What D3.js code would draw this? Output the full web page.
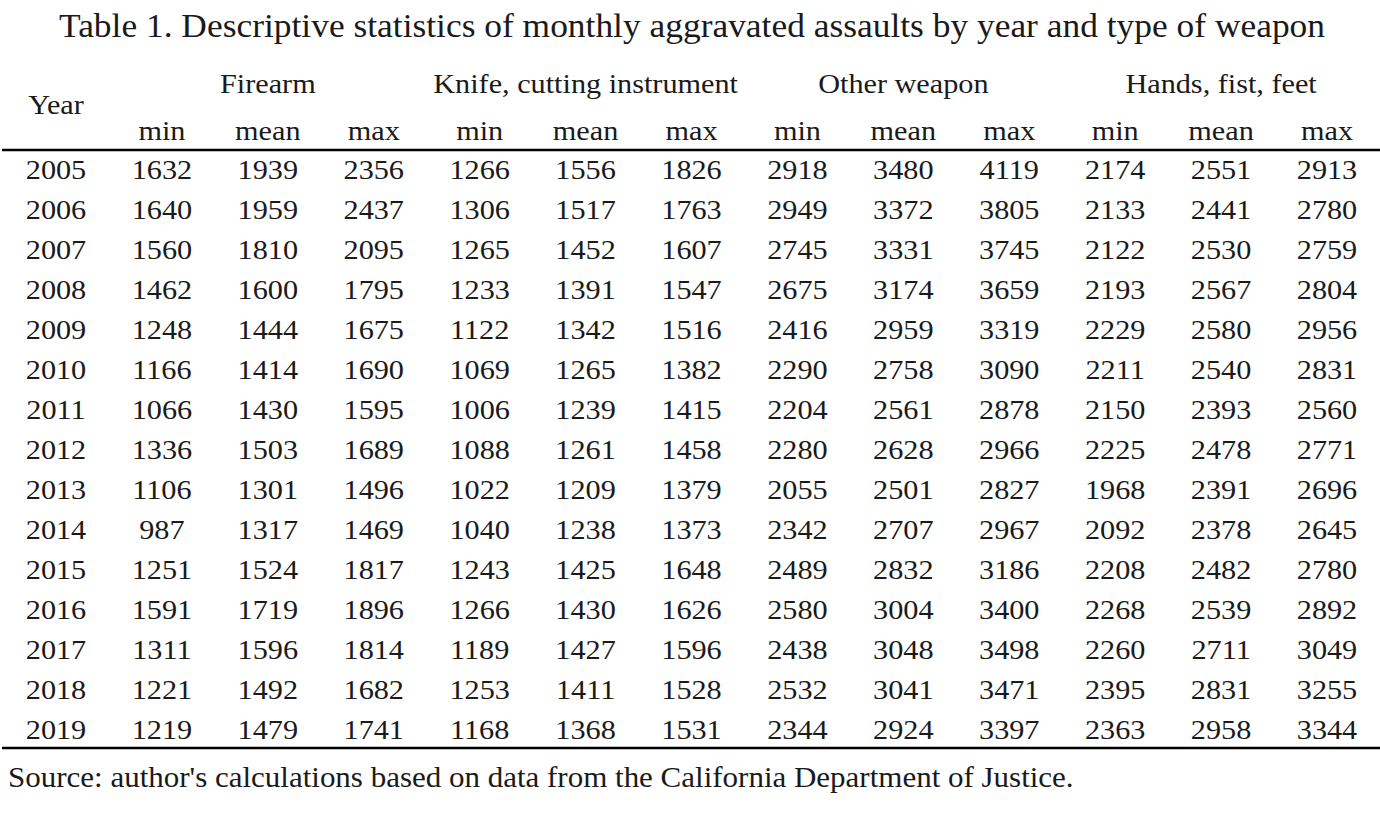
<!DOCTYPE html>
<html>
<head>
<meta charset="utf-8">
<script src="https://cdn.jsdelivr.net/npm/d3@7"></script>
<style>
  body { margin: 0; background: #fff; }
  svg text { font-family: 'Liberation Serif', 'Times New Roman', serif; fill: #1a1a1a; }
</style>
</head>
<body>
<svg id="table" width="1380" height="816"></svg>
<script>
// table values, one array per column
const years = [2005, 2006, 2007, 2008, 2009, 2010, 2011, 2012, 2013, 2014, 2015, 2016, 2017, 2018, 2019]
const weapons = ['Firearm', 'Knife, cutting instrument', 'Other weapon', 'Hands, fist, feet']
const stats = ['min', 'mean', 'max']

const firearmMin = [1632, 1640, 1560, 1462, 1248, 1166, 1066, 1336, 1106, 987, 1251, 1591, 1311, 1221, 1219]
const firearmMean = [1939, 1959, 1810, 1600, 1444, 1414, 1430, 1503, 1301, 1317, 1524, 1719, 1596, 1492, 1479]
const firearmMax = [2356, 2437, 2095, 1795, 1675, 1690, 1595, 1689, 1496, 1469, 1817, 1896, 1814, 1682, 1741]
const knifeMin = [1266, 1306, 1265, 1233, 1122, 1069, 1006, 1088, 1022, 1040, 1243, 1266, 1189, 1253, 1168]
const knifeMean = [1556, 1517, 1452, 1391, 1342, 1265, 1239, 1261, 1209, 1238, 1425, 1430, 1427, 1411, 1368]
const knifeMax = [1826, 1763, 1607, 1547, 1516, 1382, 1415, 1458, 1379, 1373, 1648, 1626, 1596, 1528, 1531]
const otherMin = [2918, 2949, 2745, 2675, 2416, 2290, 2204, 2280, 2055, 2342, 2489, 2580, 2438, 2532, 2344]
const otherMean = [3480, 3372, 3331, 3174, 2959, 2758, 2561, 2628, 2501, 2707, 2832, 3004, 3048, 3041, 2924]
const otherMax = [4119, 3805, 3745, 3659, 3319, 3090, 2878, 2966, 2827, 2967, 3186, 3400, 3498, 3471, 3397]
const handsMin = [2174, 2133, 2122, 2193, 2229, 2211, 2150, 2225, 1968, 2092, 2208, 2268, 2260, 2395, 2363]
const handsMean = [2551, 2441, 2530, 2567, 2580, 2540, 2393, 2478, 2391, 2378, 2482, 2539, 2711, 2831, 2958]
const handsMax = [2913, 2780, 2759, 2804, 2956, 2831, 2560, 2771, 2696, 2645, 2780, 2892, 3049, 3255, 3344]

const title = 'Table 1. Descriptive statistics of monthly aggravated assaults by year and type of weapon'
const source = "Source: author's calculations based on data from the California Department of Justice."

const columns = [years,
  firearmMin, firearmMean, firearmMax,
  knifeMin, knifeMean, knifeMax,
  otherMin, otherMean, otherMax,
  handsMin, handsMean, handsMax]

const svg = d3.select('#table')

// the source typeface is a little wider than Liberation Serif
const stretch = 1.08
const fontSize = 28

/**
 * Places text at (x, y) with the horizontal stretch applied.
 */
function place (sel, fx, fy) {
  sel.attr('transform', (d, i) => 'translate(' + fx(d, i) + ',' + fy(d, i) + ') scale(' + stretch + ',1)')
    .attr('dy', '0.35em')
}

// column centres and row centres
const x = d3.scalePoint()
  .domain(d3.range(columns.length))
  .range([56, 1327])

const y = d3.scalePoint()
  .domain(years)
  .range([169.5, 729.5])

svg.append('text')
  .attr('class', 'title')
  .attr('text-anchor', 'middle')
  .style('font-size', '32.8px')
  .text(title)
  .call(place, () => 692, () => 26)

svg.append('text')
  .attr('text-anchor', 'middle')
  .style('font-size', fontSize + 'px')
  .text('Year')
  .call(place, () => x(0), () => 104)

// weapon group headers, centred over their mean column
svg.selectAll('.group')
  .data(weapons)
  .join('text')
  .attr('class', 'group')
  .attr('text-anchor', 'middle')
  .style('font-size', fontSize + 'px')
  .text(d => d)
  .call(place, (d, i) => x(i * 3 + 2), () => 83)

svg.selectAll('.stat')
  .data(d3.range(1, columns.length))
  .join('text')
  .attr('class', 'stat')
  .attr('text-anchor', 'middle')
  .style('font-size', fontSize + 'px')
  .text(d => stats[(d - 1) % 3])
  .call(place, d => x(d), () => 130)

// body cells
const cols = svg.selectAll('.col')
  .data(columns)
  .join('g')
  .attr('class', 'col')
  .attr('transform', (d, i) => 'translate(' + x(i) + ',0)')

cols.selectAll('text')
  .data(d => d)
  .join('text')
  .attr('text-anchor', 'middle')
  .style('font-size', fontSize + 'px')
  .text(d => d)
  .call(place, () => 0, (d, i) => y(years[i]))

// horizontal rules
svg.selectAll('.rule')
  .data([150, 748])
  .join('line')
  .attr('class', 'rule')
  .attr('x1', 2)
  .attr('x2', 1380)
  .attr('y1', d => d)
  .attr('y2', d => d)
  .attr('stroke', '#000')
  .attr('stroke-width', 2.5)

svg.append('text')
  .style('font-size', '28.7px')
  .text(source)
  .call(place, () => 8, () => 777)
</script>
</body>
</html>
